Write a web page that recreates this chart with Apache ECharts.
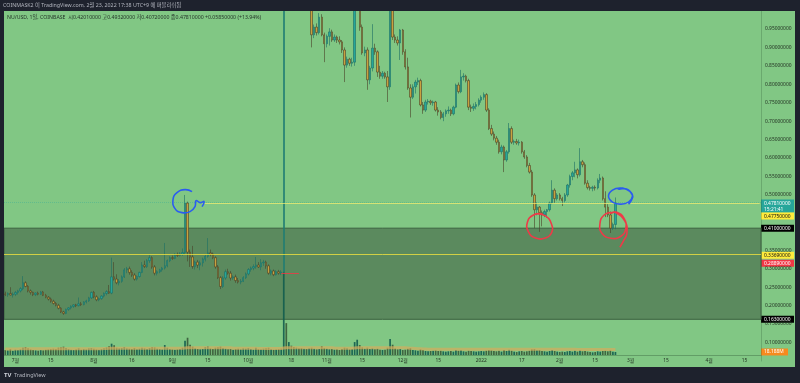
<!DOCTYPE html>
<html><head><meta charset="utf-8">
<script src="https://cdn.jsdelivr.net/npm/echarts/dist/echarts.min.js"></script>
<style>html,body{margin:0;padding:0;background:#1e222d;overflow:hidden}#c{width:800px;height:383px}</style>
</head><body><div id="c"></div><script>
// ---------------- data ----------------
const firstDate = '2021-06-27';
const dayCount = 299; // axis span: 2021-06-27 .. 2022-04-21
const tickLabels = [
 ['2021-07-01','7월'],['2021-07-15','15'],['2021-08-01','8월'],['2021-08-16','16'],
 ['2021-09-01','9월'],['2021-09-15','15'],['2021-10-01','10월'],['2021-10-18','18'],
 ['2021-11-01','11월'],['2021-11-15','15'],['2021-12-01','12월'],['2021-12-15','15'],
 ['2022-01-01','2022'],['2022-01-17','17'],['2022-02-01','2월'],['2022-02-15','15'],
 ['2022-03-01','3월'],['2022-03-15','15'],['2022-04-01','4월'],['2022-04-15','15']
];
const priceTicks = [0.10,0.15,0.20,0.25,0.30,0.35,0.40,0.45,0.50,0.55,0.60,0.65,0.70,0.75,0.80,0.85,0.90,0.95];
// daily candles [open, high, low, close] from 2021-06-27
const candles = [
[.232,.238,.226,.230],[.230,.236,.224,.233],[.233,.250,.228,.229],[.229,.236,.222,.231],[.231,.240,.226,.236],
[.236,.243,.230,.240],[.240,.250,.236,.246],[.246,.280,.242,.262],[.262,.266,.250,.252],[.252,.256,.236,.240],
[.240,.244,.230,.236],[.236,.238,.226,.230],[.230,.236,.226,.234],[.234,.238,.228,.231],[.231,.240,.229,.237],
[.237,.240,.226,.228],[.228,.232,.220,.223],[.223,.226,.214,.218],[.218,.222,.208,.212],[.212,.216,.203,.206],
[.206,.210,.198,.201],[.201,.205,.190,.193],[.193,.196,.180,.183],[.183,.186,.175,.179],[.179,.192,.177,.190],
[.190,.196,.186,.194],[.194,.201,.190,.198],[.198,.204,.194,.202],[.202,.205,.196,.200],[.200,.222,.198,.205],
[.205,.210,.199,.203],[.203,.212,.201,.210],[.210,.216,.206,.213],[.213,.224,.210,.221],[.221,.238,.218,.236],
[.236,.240,.220,.224],[.224,.228,.212,.216],[.216,.222,.212,.219],[.219,.228,.216,.226],[.226,.236,.222,.233],
[.233,.242,.228,.238],[.238,.256,.232,.234],[.234,.330,.231,.278],[.278,.318,.268,.272],[.272,.285,.258,.262],
[.262,.272,.255,.266],[.266,.282,.262,.278],[.278,.302,.275,.297],[.297,.305,.288,.300],[.300,.306,.284,.290],
[.290,.296,.278,.283],[.283,.288,.268,.272],[.272,.282,.268,.279],[.279,.292,.276,.290],[.290,.318,.288,.310],
[.310,.322,.302,.306],[.306,.326,.302,.322],[.322,.337,.316,.330],[.330,.334,.300,.305],[.305,.310,.282,.288],
[.288,.296,.282,.292],[.292,.300,.288,.297],[.297,.305,.292,.302],[.302,.370,.298,.308],[.308,.325,.304,.322],
[.322,.334,.318,.330],[.330,.336,.324,.328],[.328,.342,.326,.338],[.338,.344,.332,.336],[.336,.345,.333,.340],
[.340,.355,.335,.344],[.344,.500,.338,.478],[.478,.482,.320,.345],[.345,.352,.305,.332],[.332,.362,.300,.306],
[.306,.322,.298,.318],[.318,.324,.302,.310],[.310,.322,.296,.316],[.316,.330,.306,.326],[.326,.338,.320,.334],
[.334,.383,.330,.343],[.343,.352,.334,.340],[.340,.344,.326,.330],[.330,.334,.300,.305],[.305,.310,.272,.276],
[.276,.280,.245,.252],[.252,.280,.248,.275],[.275,.298,.270,.292],[.292,.300,.284,.288],[.288,.294,.268,.275],
[.275,.282,.270,.278],[.278,.284,.262,.268],[.268,.275,.260,.264],[.264,.272,.258,.266],[.266,.280,.264,.276],
[.276,.290,.272,.286],[.286,.302,.282,.298],[.298,.306,.292,.302],[.302,.312,.296,.306],[.306,.332,.300,.310],
[.310,.318,.302,.305],[.305,.326,.296,.316],[.316,.324,.308,.318],[.318,.322,.300,.308],[.308,.312,.284,.288],
[.288,.298,.282,.294],[.294,.298,.280,.284],[.284,.296,.282,.292],[.292,.297,.284,.288],[.288,.296,.283,.291],
[.291,1.60,.288,1.35],[1.35,1.65,1.10,1.20],[1.20,1.45,1.08,1.38],[1.38,1.52,1.22,1.28],[1.28,1.40,1.15,1.22],
[1.22,1.34,1.12,1.30],[1.30,1.42,1.14,1.18],[1.18,1.26,1.06,1.12],[1.12,1.22,1.05,1.16],[1.16,1.20,1.04,1.08],
[1.08,1.15,1.02,1.10],[1.10,1.12,.900,.934],[.934,.962,.925,.955],[.955,.965,.932,.940],[.940,.993,.935,.982],
[.982,.990,.930,.934],[.934,.940,.860,.910],[.910,.935,.900,.930],[.930,.952,.905,.942],[.942,.948,.915,.920],
[.920,.935,.915,.928],[.928,.932,.912,.920],[.920,.930,.908,.915],[.915,.920,.885,.893],[.893,.900,.806,.852],
[.852,.875,.845,.868],[.868,.872,.850,.857],[.857,.872,.848,.860],[.860,1.10,.850,1.04],[1.04,1.15,1.005,1.08],
[1.08,1.10,.945,.955],[.955,.962,.880,.885],[.885,.902,.876,.893],[.893,.900,.785,.812],[.812,.850,.800,.844],
[.844,.963,.835,.898],[.898,.910,.880,.888],[.888,.892,.820,.833],[.833,.850,.815,.822],[.822,.836,.815,.830],
[.830,.834,.815,.820],[.820,.836,.752,.793],[.793,1.06,.785,1.00],[1.00,1.02,.920,.928],[.928,.935,.912,.920],
[.920,.930,.905,.912],[.912,.950,.866,.947],[.947,.950,.880,.888],[.888,.895,.840,.847],[.847,.872,.785,.790],
[.790,.800,.710,.765],[.765,.800,.760,.793],[.793,.812,.775,.806],[.806,.818,.798,.810],[.810,.815,.740,.744],
[.744,.752,.720,.730],[.730,.758,.725,.752],[.752,.760,.745,.754],[.754,.758,.744,.750],[.750,.756,.742,.752],
[.752,.755,.726,.730],[.730,.738,.715,.725],[.725,.730,.705,.710],[.710,.725,.700,.720],[.720,.732,.712,.728],
[.728,.740,.720,.730],[.730,.734,.714,.720],[.720,.742,.716,.738],[.738,.802,.735,.798],[.798,.805,.775,.780],
[.780,.839,.776,.820],[.820,.830,.810,.822],[.822,.826,.805,.810],[.810,.815,.730,.738],[.738,.745,.725,.735],
[.735,.748,.728,.740],[.740,.752,.732,.745],[.745,.762,.740,.757],[.757,.770,.750,.765],[.765,.778,.758,.772],
[.772,.776,.725,.730],[.730,.735,.676,.680],[.680,.690,.660,.665],[.665,.672,.648,.654],[.654,.660,.636,.643],
[.643,.650,.612,.617],[.617,.636,.610,.630],[.630,.634,.562,.595],[.595,.622,.590,.617],[.617,.695,.612,.680],
[.680,.686,.638,.643],[.643,.650,.636,.645],[.645,.652,.636,.641],[.641,.650,.634,.643],[.643,.646,.612,.617],
[.617,.622,.598,.603],[.603,.608,.575,.580],[.580,.587,.558,.562],[.562,.568,.495,.500],[.500,.505,.410,.460],
[.460,.480,.445,.467],[.467,.470,.400,.452],[.452,.458,.415,.446],[.446,.460,.440,.455],[.455,.462,.438,.460],
[.460,.482,.455,.478],[.478,.540,.475,.513],[.513,.518,.478,.490],[.490,.505,.485,.500],[.500,.505,.485,.490],
[.490,.495,.470,.485],[.485,.505,.480,.500],[.500,.530,.495,.527],[.527,.555,.520,.550],[.550,.565,.540,.560],
[.560,.590,.548,.568],[.568,.572,.545,.555],[.555,.627,.550,.590],[.590,.595,.575,.582],[.582,.588,.528,.532],
[.532,.540,.515,.520],[.520,.525,.512,.518],[.518,.525,.510,.521],[.521,.526,.512,.519],[.519,.545,.515,.540],
[.540,.557,.532,.546],[.546,.550,.485,.490],[.490,.510,.440,.467],[.467,.475,.440,.446],[.446,.455,.397,.410],
[.410,.425,.405,.4201],[.4201,.4932,.4072,.4781]
];
// daily volume (millions)
const volumes = [
30,28,36,26,32,30,34,44,48,40, 34,30,28,26,30,28,32,34,36,38, 36,44,46,50,42,36,32,30,34,40,
32,36,34,40,42,38,34,32,36,40, 46,52,68,58,44,40,42,48,40,38, 36,42,34,38,44,40,36,42,48,46,
38,36,34,60,44,36,34,32,34,36, 44,86,104,62,50,40,36,34,36,48, 52,40,36,44,46,50,42,38,34,36,
32,36,38,34,40,38,42,36,32,44, 36,34,38,40,44,36,32,34,36,38, 498,192,78,56,48,44,40,42,38,36,
40,44,38,34,36,54,42,38,34,36, 32,34,30,36,44,40,34,36,78,92, 60,46,38,44,36,40,34,38,32,30,
32,44,96,62,40,34,36,30,32,38, 42,30,28,26,34,30,24,22,24,26, 28,24,26,22,20,22,24,20,30,26,
28,22,20,26,24,22,20,22,24,22, 26,30,28,24,22,26,20,30,24,32, 26,20,18,22,24,20,22,26,34,36,
28,30,24,22,20,24,30,24,20,18, 20,18,22,24,20,26,20,28,22,24, 20,18,16,18,22,20,24,26,22,28,
20,18.188
];
// volume moving average line (millions)
const volumeMA = [
36,36,36,36,36,36,37,37,37,37, 37,37,37,37,37,37,37,38,38,38, 38,38,38,38,38,38,38,38,38,38,
38,38,38,38,38,38,38,38,38,39, 39,40,41,41,41,41,41,41,41,41, 41,41,41,41,41,41,41,41,41,41,
41,40,40,40,40,40,40,40,40,40, 40,42,44,44,44,44,44,44,44,44, 44,44,44,44,44,44,44,44,44,43,
41,40,40,40,40,40,40,40,40,40, 39,39,39,39,39,39,39,39,39,39, 42,44,44,44,44,44,44,44,44,44,
44,44,44,44,44,44,44,44,44,44, 42,41,41,41,41,41,41,41,42,43, 43,43,43,43,43,43,43,43,43,43,
43,43,44,44,44,44,44,44,43,42, 41,40,39,38,37,36,36,35,35,35, 34,34,34,34,34,34,34,34,34,34,
34,34,34,34,34,34,34,34,34,34, 34,34,34,34,34,34,34,34,34,34, 34,34,34,34,34,34,34,34,34,34,
34,34,34,34,34,34,34,34,34,34, 34,34,34,34,34,34,33,33,33,33, 33,33,33,33,33,33,33,33,33,33,
33,33
];
const rectZone = [0.41, 0.163];
const hLines = { support: 0.3369, lastPrice: 0.4781, rayLevel: 0.4775, rayFrom: '2021-09-13', redLevel: 0.2889, redFrom: '2021-10-14', redTo: '2021-10-21' };
const priceTags = [
 {v:0.4781, text:'0.47810000', sub:'15:21:41', kind:'last'},
 {v:0.4775, text:'0.47750000', kind:'yellow'},
 {v:0.41,   text:'0.41000000', kind:'black'},
 {v:0.3369, text:'0.33690000', kind:'yellow'},
 {v:0.2889, text:'0.28890000', kind:'red'},
 {v:0.163,  text:'0.16300000', kind:'black'}
];
const volumeTag = {v:18.188, text:'18.188M'};
const headerText = 'COINMASK2 이 TradingView.com, 2월 23, 2022 17:38 UTC+9 에 퍼블리쉬됨';
const legendText = 'NU/USD, 1일, COINBASE  시0.42010000 고0.49320000 저0.40720000 종0.47810000 +0.05850000 (+13.94%)';
const drawings = [
 {anchor:['2021-09-06',0.482], color:'#2a5cf0'},
 {anchor:['2022-01-24',0.416], color:'#ee3a48'},
 {anchor:['2022-02-22',0.418], color:'#ee3a48'},
 {anchor:['2022-02-25',0.497], color:'#2a5cf0'}
];

// ---------------- build ----------------
const categories = [];
{ const d = new Date(firstDate + 'T00:00:00Z'); for (let i=0;i<dayCount;i++){ categories.push(d.toISOString().slice(0,10)); d.setUTCDate(d.getUTCDate()+1);} }
const labelMap = {}; tickLabels.forEach(t => labelMap[t[0]] = t[1]);
const FF = "'Noto Sans','Noto Sans CJK KR',sans-serif";
const UP='#26a69a', DOWN='#c9a13f';
const FS = 4.9;

const candleData = candles.map(c => [c[0], c[3], c[2], c[1]]);
const volData = volumes.map((v,i) => ({value:v, itemStyle:{color: candles[i][3] >= candles[i][0] ? 'rgba(18,92,78,0.9)' : 'rgba(52,84,52,0.85)'}}));

const chart = echarts.init(document.getElementById('c'), null, {width:800, height:383});
chart.setOption({
  animation:false,
  backgroundColor:'#1e222d',
  grid:[
    {left:4, right:39, top:10.5, bottom:22},
    {left:4, right:39, top:272, bottom:28}
  ],
  xAxis:[
    {type:'category', gridIndex:0, data:categories, boundaryGap:true, show:false},
    {type:'category', gridIndex:1, data:categories, boundaryGap:true,
     axisLine:{show:true, lineStyle:{color:'rgba(40,80,45,0.35)'}}, axisTick:{show:false},
     axisLabel:{interval:(i,v)=>labelMap[v]!==undefined, formatter:v=>labelMap[v]||'', fontSize:FS, color:'#243324', fontFamily:FF, margin:3.5}}
  ],
  yAxis:[
    {type:'value', gridIndex:0, position:'right', min:0.05, max:1.0, interval:0.05, splitLine:{show:false},
     axisLine:{show:true, lineStyle:{color:'rgba(40,80,45,0.25)'}}, axisTick:{show:false},
     axisLabel:{fontSize:FS, color:'#243324', fontFamily:FF, margin:4,
       formatter:v=>{ const t = priceTicks.find(p=>Math.abs(p-v)<1e-6); if (t===undefined || Math.abs(t-0.45)<1e-6 || Math.abs(t-0.40)<1e-6) return ''; return t.toFixed(8);} }},
    {type:'value', gridIndex:1, min:0, max:500, show:false, splitLine:{show:false}}
  ],
  series:[
    {type:'bar', xAxisIndex:1, yAxisIndex:1, data:volData, barWidth:1.7, z:3, silent:true},
    {type:'line', xAxisIndex:1, yAxisIndex:1, data:volumeMA, symbol:'none', z:4, silent:true,
     lineStyle:{width:3, color:'rgba(214,172,92,0.7)'}},
    {type:'candlestick', xAxisIndex:0, yAxisIndex:0, data:candleData, barWidth:1.9, z:5,
     itemStyle:{color:UP, color0:DOWN, borderColor:'#1d6f65', borderColor0:'#4a4128', borderWidth:0.6},
     markArea:{silent:true, z:1, itemStyle:{color:'#5b8a5e', borderColor:'#3c6140', borderWidth:1},
       data:[[{yAxis:rectZone[0]},{yAxis:rectZone[1]}]]},
     markLine:{silent:true, symbol:['none','none'], label:{show:false}, z:6,
       data:[
         {yAxis:hLines.lastPrice, lineStyle:{color:'rgba(38,166,154,0.35)', type:'dotted', width:1}},
         {yAxis:hLines.support, lineStyle:{color:'rgba(255,235,59,0.72)', type:'solid', width:1}},
         [{coord:[hLines.rayFrom, hLines.rayLevel], lineStyle:{color:'rgba(250,240,110,0.7)', type:'solid', width:1}},
          {coord:[categories[categories.length-1], hLines.rayLevel]}],
         [{coord:[hLines.redFrom, hLines.redLevel], lineStyle:{color:'rgba(242,54,69,0.8)', type:'solid', width:1}},
          {coord:[hLines.redTo, hLines.redLevel]}]
       ]}
    }
  ]
});

// ---------------- annotations / frame ----------------
const yPx = v => chart.convertToPixel({yAxisIndex:0}, v);
const g = [];
g.push({type:'rect', z:-10, shape:{x:4,y:11,width:791,height:356}, style:{fill:'#81c784'}});
g.push({type:'rect', z:100, shape:{x:0,y:0,width:800,height:11}, style:{fill:'#1e222d'}});
g.push({type:'rect', z:100, shape:{x:0,y:0,width:4,height:383}, style:{fill:'#1e222d'}});
g.push({type:'rect', z:100, shape:{x:795,y:0,width:5,height:383}, style:{fill:'#1e222d'}});
g.push({type:'rect', z:100, shape:{x:0,y:367,width:800,height:16}, style:{fill:'#1e222d'}});
g.push({type:'text', z:101, x:3, y:5.8, style:{text:headerText, fill:'#b2b5be', fontSize:5.3, fontFamily:FF, verticalAlign:'middle'}});
g.push({type:'text', z:101, x:7, y:17.5, style:{text:legendText, fill:'#25352a', fontSize:5.2, fontFamily:FF, verticalAlign:'middle'}});
g.push({type:'text', z:101, x:4, y:375.5, style:{text:'TV', fill:'#d1d4dc', fontSize:6, fontWeight:'bold', fontFamily:FF, verticalAlign:'middle'}});
g.push({type:'text', z:101, x:14, y:375.5, style:{text:'TradingView', fill:'#b2b5be', fontSize:5.5, fontFamily:FF, verticalAlign:'middle'}});

const tagStyle = {last:['#26a69a','#ffffff'], yellow:['#ffeb3b','#111111'], black:['#000000','#ffffff'], red:['#f23645','#ffffff']};
let lastBottom = 0;
priceTags.forEach(t => {
  const [bg, fg] = tagStyle[t.kind];
  const y = yPx(t.v);
  const h = t.sub ? 13 : 7;
  let top = y - 3.5;
  if (t.kind === 'red') top -= 9.5;
  if (top < lastBottom && t.v > 0.45) top = lastBottom;
  const kids = [{type:'rect', shape:{x:0,y:0,width:33,height:h}, style:{fill:bg}},
                {type:'text', x:3, y:3.6, style:{text:t.text, fill:fg, fontSize:FS, fontFamily:FF, verticalAlign:'middle'}}];
  if (t.sub) kids.push({type:'text', x:3, y:9.6, style:{text:t.sub, fill:fg, fontSize:FS, fontFamily:FF, verticalAlign:'middle'}});
  g.push({type:'group', z:90, x:761, y:top, children:kids});
  lastBottom = top + h;
});
{
  const vy = chart.convertToPixel({yAxisIndex:1}, volumeTag.v);
  g.push({type:'group', z:90, x:761, y:vy-3.5, children:[
    {type:'rect', shape:{x:0,y:0,width:27,height:7}, style:{fill:'#f68a1e'}},
    {type:'text', x:3, y:3.6, style:{text:volumeTag.text, fill:'#ffffff', fontSize:FS, fontFamily:FF, verticalAlign:'middle'}}]});
}
const loopShapes = [
 [[7,-10],[0,-12],[-8,-9],[-12,-2],[-10,7],[-3,11],[5,10],[10,5],[11,-1],[15,1],[19,0],[17,5]],
 [[3,-12],[-6,-11],[-12,-4],[-11,6],[-4,12],[6,12],[12,7],[12,-2],[6,-10],[-2,-12]],
 [[0,-13],[-9,-10],[-13,-1],[-11,8],[-2,13],[8,11],[13,3],[11,-7],[4,-13],[-2,-12],[2,-13],[12,-4],[14,8],[11,15],[7,22]],
 [[0,-8],[-8,-6],[-12,0],[-8,6],[0,8],[8,6],[12,0],[9,-5],[2,-8],[-2,-7],[6,-7],[12,-1],[11,4],[8,8]]
];
drawings.forEach((d,k) => {
  const p = chart.convertToPixel({xAxisIndex:0, yAxisIndex:0}, d.anchor);
  g.push({type:'polyline', z:95, shape:{points: loopShapes[k].map(q=>[p[0]+q[0], p[1]+q[1]]), smooth:0.5},
          style:{stroke:d.color, lineWidth:1.6, fill:null}});
});
chart.setOption({graphic:{elements:g}});
</script></body></html>
